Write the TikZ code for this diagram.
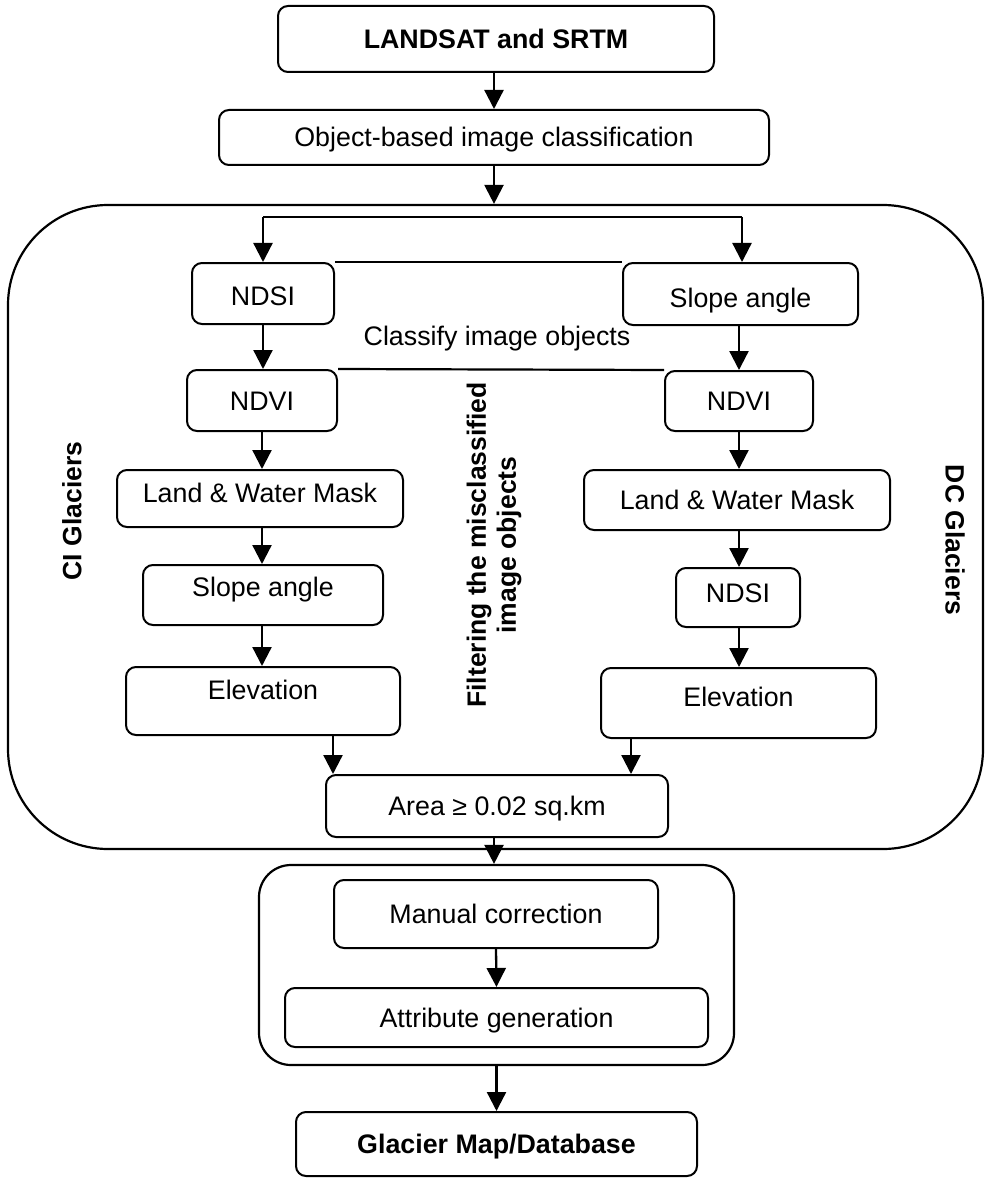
\documentclass[tikz,border=0pt]{standalone}
\usepackage{fontspec}
\setmainfont{Liberation Sans}
\usetikzlibrary{arrows.meta}
\begin{document}
\begin{tikzpicture}[x=1pt,y=-1pt,
  box/.style={draw, line width=2pt, rounded corners=10pt, inner sep=0pt, align=center, text height=19pt, text depth=0pt},
  cont/.style={draw, line width=2.2pt, inner sep=0pt},
  arr/.style={line width=2.3pt, -{Triangle[width=19pt,length=19pt]}},
  ln/.style={line width=2.2pt},
  lbl/.style={font=\fontsize{26.5}{30}\selectfont\bfseries, inner sep=0pt, align=center},
  font=\fontsize{26.8}{30}\selectfont]
\useasboundingbox (0,0) rectangle (986,1182);
% containers
\node[cont, rounded corners=100pt, minimum width=975, minimum height=644] (c1) at (495.5,527) {};
\node[cont, rounded corners=32pt, minimum width=475, minimum height=200] (c2) at (496.5,965) {};
% top boxes
\node[box, font=\fontsize{26.8}{30}\selectfont\bfseries, minimum width=436, minimum height=66] (top) at (496,39) {LANDSAT and SRTM};
\node[box, minimum width=550, minimum height=55] (obj) at (494,137.5) {Object-based image classification};
% left column
\node[box, text height=24pt, minimum width=142, minimum height=61] (ndsiL) at (263,293.5) {NDSI};
\node[box, minimum width=150, minimum height=61] (ndviL) at (262,400.5) {NDVI};
\node[box, text depth=12pt, minimum width=286, minimum height=57] (lwmL) at (260,498.5) {Land \& Water Mask};
\node[box, text depth=16pt, minimum width=240, minimum height=60] (slopeL) at (263,595) {Slope angle};
\node[box, text depth=22pt, minimum width=274, minimum height=68] (elevL) at (263,701) {Elevation};
% right column
\node[box, text height=27pt, minimum width=235, minimum height=62] (slopeR) at (740.5,294) {Slope angle};
\node[box, minimum width=148, minimum height=60] (ndviR) at (739,401) {NDVI};
\node[box, minimum width=306, minimum height=60] (lwmR) at (737,500) {Land \& Water Mask};
\node[box, text depth=10pt, minimum width=124, minimum height=59] (ndsiR) at (738,597.5) {NDSI};
\node[box, text depth=12pt, minimum width=275, minimum height=70] (elevR) at (738.5,703) {Elevation};
% bottom
\node[box, minimum width=342, minimum height=62] (area) at (497,806) {Area ≥ 0.02 sq.km};
\node[box, minimum width=324, minimum height=68] (man) at (496,914) {Manual correction};
\node[box, minimum width=423, minimum height=59] (attr) at (496.5,1017.5) {Attribute generation};
\node[box, font=\fontsize{26.8}{30}\selectfont\bfseries, minimum width=401, minimum height=64] (glac) at (496.5,1144) {Glacier Map/Database};
% labels
\node[inner sep=0pt] (classify) at (497,339) {Classify image objects};
\node[lbl, rotate=90] (ci) at (72,511) {CI Glaciers};
\node[lbl, rotate=-90] (dc) at (955,540) {DC Glaciers};
\node[lbl, rotate=90] (filt) at (494,545) {Filtering the misclassified\\image objects};
% connectors
\draw[arr] (top.south -| obj.north) -- (obj.north);
\draw[arr] (obj.south) -- (obj.south |- c1.north);
\coordinate (bl) at (263,217);
\coordinate (br) at (742,217);
\draw[ln] (bl) -- (br);
\draw[arr] (bl) -- (bl |- ndsiL.north);
\draw[arr] (br) -- (br |- slopeR.north);
\draw[ln] (ndsiL.north east) -- (slopeR.north west);
\draw[arr] (ndsiL.south) -- (ndsiL.south |- ndviL.north);
\draw[arr] (slopeR.south -| ndviR.north) -- (ndviR.north);
\draw[ln] (ndviL.north east) -- (ndviR.north west);
\draw[arr] (ndviL.south) -- (ndviL.south |- lwmL.north);
\draw[arr] (ndviL.south |- lwmL.south) -- (ndviL.south |- slopeL.north);
\draw[arr] (ndviL.south |- slopeL.south) -- (ndviL.south |- elevL.north);
\draw[arr] (ndviR.south) -- (ndviR.south |- lwmR.north);
\draw[arr] (ndviR.south |- lwmR.south) -- (ndviR.south |- ndsiR.north);
\draw[arr] (ndviR.south |- ndsiR.south) -- (ndviR.south |- elevR.north);
\coordinate (al) at (333,0);
\coordinate (ar) at (631,0);
\draw[arr] (al |- elevL.south) -- (al |- area.north);
\draw[arr] (ar |- elevR.south) -- (ar |- area.north);
\draw[arr] (area.south -| obj.south) -- (obj.south |- c2.north);
\draw[arr] (man.south) -- (attr.north);
\draw[arr] (c2.south) -- (glac.north);
\end{tikzpicture}
\end{document}
